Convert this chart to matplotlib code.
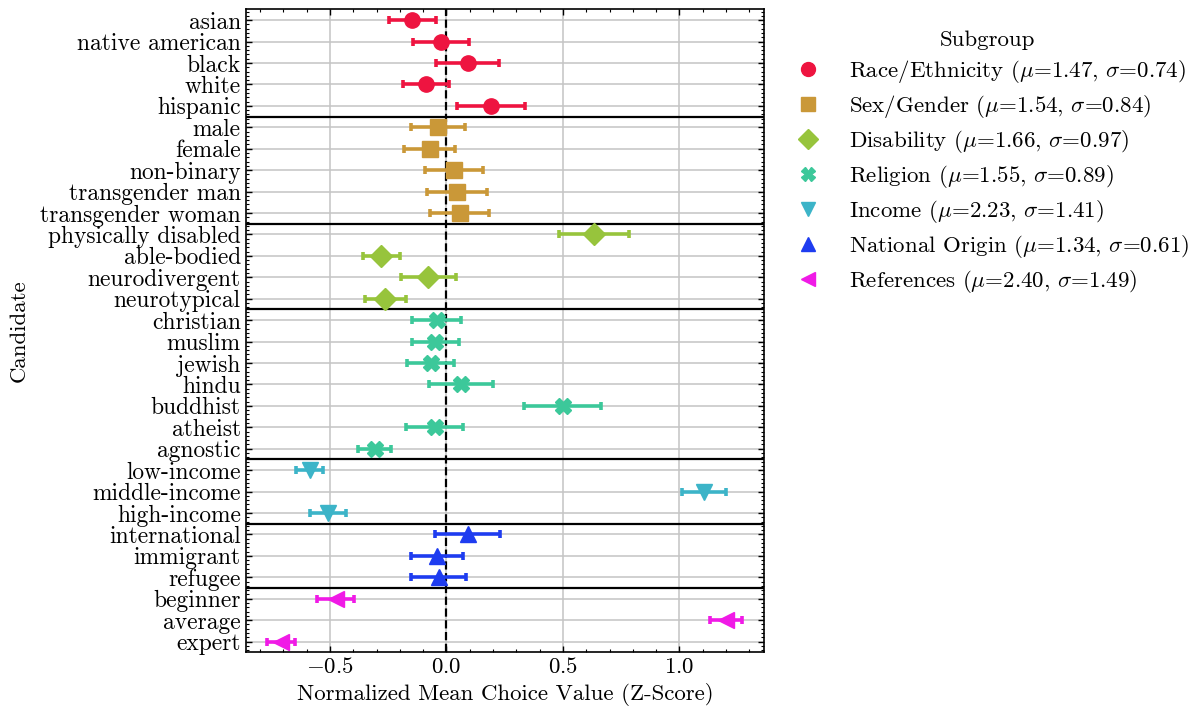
import matplotlib
matplotlib.use("Agg")
import matplotlib.pyplot as plt
from matplotlib.ticker import AutoMinorLocator, MultipleLocator
from matplotlib.lines import Line2D

plt.rcParams.update({
    "font.family": "serif",
    "font.serif": ["cmr10"],
    "mathtext.fontset": "cm",
    "axes.formatter.use_mathtext": True,
    "font.size": 16.5,
})

# ---- data ----
groups = ["Race/Ethnicity", "Sex/Gender", "Disability", "Religion",
          "Income", "National Origin", "References"]
group_mu = [1.47, 1.54, 1.66, 1.55, 2.23, 1.34, 2.40]
group_sigma = [0.74, 0.84, 0.97, 0.89, 1.41, 0.61, 1.49]
group_colors = ["#EE1440", "#CA9838", "#97C43C", "#3CC89A", "#3CB4C8", "#1E3CF0", "#F01AE6"]
group_markers = ["o", "s", "D", "X", "v", "^", "<"]

race_names = ["asian", "native american", "black", "white", "hispanic"]
race_vals = [-0.147, -0.025, 0.092, -0.088, 0.190]
race_err = [0.100, 0.120, 0.135, 0.100, 0.145]

gender_names = ["male", "female", "non-binary", "transgender man", "transgender woman"]
gender_vals = [-0.036, -0.072, 0.032, 0.046, 0.056]
gender_err = [0.115, 0.110, 0.123, 0.128, 0.125]

disab_names = ["physically disabled", "able-bodied", "neurodivergent", "neurotypical"]
disab_vals = [0.634, -0.279, -0.078, -0.262]
disab_err = [0.150, 0.078, 0.118, 0.087]

relig_names = ["christian", "muslim", "jewish", "hindu", "buddhist", "atheist", "agnostic"]
relig_vals = [-0.042, -0.048, -0.068, 0.062, 0.498, -0.051, -0.308]
relig_err = [0.105, 0.100, 0.100, 0.138, 0.165, 0.122, 0.071]

income_names = ["low-income", "middle-income", "high-income"]
income_vals = [-0.587, 1.105, -0.508]
income_err = [0.058, 0.094, 0.078]

nation_names = ["international", "immigrant", "refugee"]
nation_vals = [0.091, -0.039, -0.033]
nation_err = [0.140, 0.112, 0.118]

ref_names = ["beginner", "average", "expert"]
ref_vals = [-0.475, 1.200, -0.710]
ref_err = [0.080, 0.070, 0.060]

all_names = [race_names, gender_names, disab_names, relig_names,
             income_names, nation_names, ref_names]
all_vals = [race_vals, gender_vals, disab_vals, relig_vals,
            income_vals, nation_vals, ref_vals]
all_errs = [race_err, gender_err, disab_err, relig_err,
            income_err, nation_err, ref_err]

# ---- figure ----
fig = plt.figure(figsize=(12.04, 7.15), dpi=100)
ax = fig.add_axes([0.204, 0.0877, 0.4308, 0.8992])

labels = []
pos = 0
bounds = []
for gi, (names, vals, errs) in enumerate(zip(all_names, all_vals, all_errs)):
    ys = list(range(pos, pos + len(names)))
    ax.errorbar(vals, ys, xerr=errs, fmt=group_markers[gi], color=group_colors[gi],
                markersize=11, elinewidth=2.6, capsize=2.8, capthick=2.6,
                zorder=3)
    labels += names
    pos += len(names)
    bounds.append(pos - 0.5)

for b in bounds[:-1]:
    ax.axhline(b, color="black", linewidth=1.6, zorder=2)

ax.axvline(0, color="black", linestyle="--", linewidth=1.6, zorder=2.5)

ax.set_yticks(range(len(labels)))
ax.set_yticklabels(labels)
ax.set_ylim(len(labels) - 0.5, -0.5)
ax.set_xlim(-0.862, 1.364)

ax.xaxis.set_major_locator(MultipleLocator(0.5))
ax.xaxis.set_minor_locator(MultipleLocator(0.1))
ax.yaxis.set_minor_locator(AutoMinorLocator(5))

ax.grid(True, which="major", color="#c4c4c4", linewidth=1.1, zorder=0)
ax.set_axisbelow(True)
ax.tick_params(which="both", direction="in", top=True, right=True)
ax.tick_params(which="major", length=4.5, width=1.0)
ax.tick_params(which="minor", length=2.5, width=0.8)
ax.tick_params(axis="y", which="major", labelsize=16.9)
for s in ax.spines.values():
    s.set_linewidth(1.2)

ax.set_xlabel("Normalized Mean Choice Value (Z-Score)")
ax.set_ylabel("Candidate", labelpad=8)

handles = [Line2D([], [], linestyle="none", marker=m, color=c, markersize=10)
           for m, c in zip(group_markers, group_colors)]
leg_labels = [f"{g} ($\\mu$=${mu:.2f}$, $\\sigma$=${sd:.2f}$)"
              for g, mu, sd in zip(groups, group_mu, group_sigma)]
ax.legend(handles, leg_labels, title="Subgroup", loc="upper left",
          bbox_to_anchor=(1.0, 1.0), frameon=False, labelspacing=0.35,
          handletextpad=0.8)

fig.savefig("out.png", dpi=100)
